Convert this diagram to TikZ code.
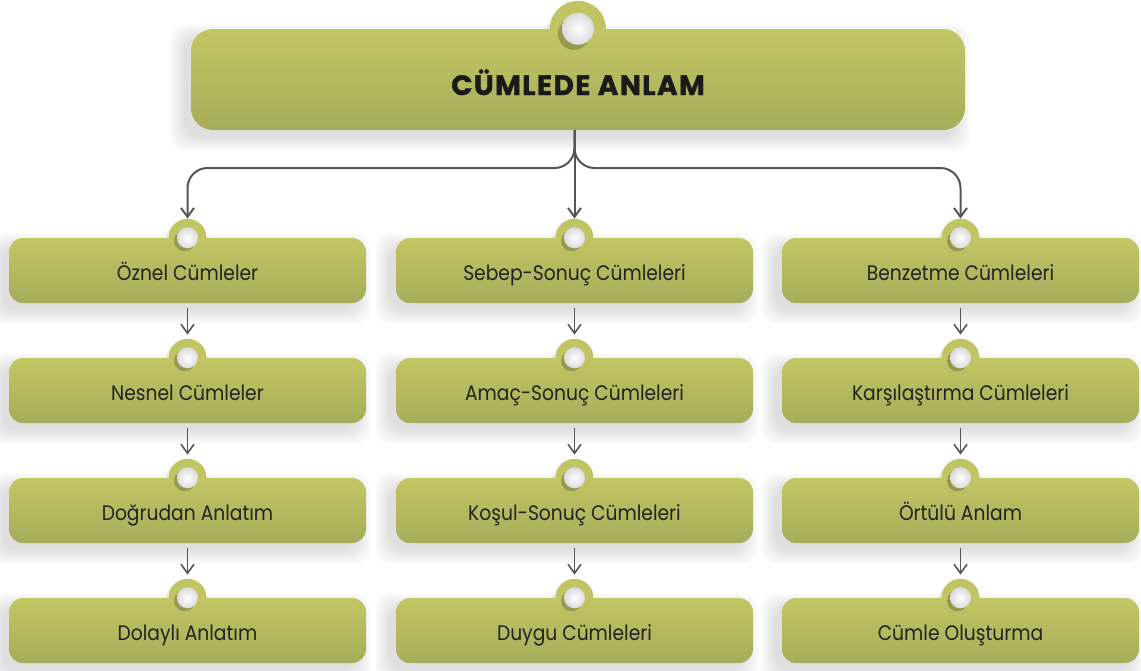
\documentclass[tikz,border=0pt]{standalone}
\usepackage{fontspec}
\setmainfont{Poppins}
\newfontfamily\titlefont[LetterSpace=5,FakeBold=1.2]{Poppins}
\newfontfamily\bodyfont[FakeStretch=0.89]{Poppins}
\usetikzlibrary{arrows.meta,calc}
\definecolor{gtop}{RGB}{194,198,99}
\definecolor{gbot}{RGB}{167,172,91}
\definecolor{ringc}{RGB}{192,196,98}
\definecolor{arrowc}{RGB}{85,85,85}
\definecolor{txt}{RGB}{34,34,34}
\definecolor{ttxt}{RGB}{26,26,26}
\pgfdeclarelayer{bg}
\pgfdeclarelayer{mid}
\pgfsetlayers{bg,mid,main}
\tikzset{
  box/.style={rounded corners=14pt, minimum width=357pt, minimum height=65pt,
    top color=gtop, bottom color=gbot, draw=none, inner sep=0pt,
    text height=19pt, text depth=0pt,
    text=txt, font=\bodyfont\fontsize{21}{24}\selectfont},
  titlebox/.style={rounded corners=22pt, minimum width=774pt, minimum height=101pt,
    top color=gtop, bottom color=gbot, draw=none, inner sep=0pt,
    text height=31pt, text depth=0pt,
    text=ttxt, font=\titlefont\bfseries\fontsize{28}{30}\selectfont},
  ring/.style={circle, fill=ringc, minimum size=38pt, inner sep=0pt},
  bigring/.style={circle, fill=ringc, minimum size=56pt, inner sep=0pt},
  dot/.style={circle, inner color=white, outer color=gray!28, minimum size=21pt, inner sep=0pt},
  bigdot/.style={circle, inner color=white, outer color=gray!28, minimum size=32pt, inner sep=0pt},
  arr/.style={draw=arrowc, line width=2pt, -{Straight Barb[length=9pt,width=13pt]}},
  arrs/.style={draw=arrowc, line width=1.6pt, -{Straight Barb[length=9pt,width=13pt]},
    shorten <=5pt, shorten >=4pt},
  shad/.style={black, opacity=0.016},
}
\newcommand\softshadow[1]{%
  \foreach \k in {0,2,...,14} {%
    \fill[shad, rounded corners=16pt]
      ($(#1.south west)+(-7-\k,7+\k)$) rectangle ($(#1.north east)+(-9+\k,9-\k)$);
  }}
\begin{document}
\begin{tikzpicture}[x=1pt,y=-1pt]
\useasboundingbox (0,0) rectangle (1141,670);
\node[titlebox] (T) at (578,79.5) {CÜMLEDE ANLAM};
% column 1
\node[box] (a1) at (187.5,270.5) {Öznel Cümleler};
\node[box] (a2) at (187.5,390.5) {Nesnel Cümleler};
\node[box] (a3) at (187.5,510.5) {Doğrudan Anlatım};
\node[box] (a4) at (187.5,630.5) {Dolaylı Anlatım};
% column 2
\node[box] (b1) at (574.5,270.5) {Sebep-Sonuç Cümleleri};
\node[box] (b2) at (574.5,390.5) {Amaç-Sonuç Cümleleri};
\node[box] (b3) at (574.5,510.5) {Koşul-Sonuç Cümleleri};
\node[box] (b4) at (574.5,630.5) {Duygu Cümleleri};
% column 3
\node[box] (c1) at (960.5,270.5) {Benzetme Cümleleri};
\node[box] (c2) at (960.5,390.5) {Karşılaştırma Cümleleri};
\node[box] (c3) at (960.5,510.5) {Örtülü Anlam};
\node[box] (c4) at (960.5,630.5) {Cümle Oluşturma};
% shadows
\begin{pgfonlayer}{bg}
  \softshadow{T}
  \foreach \n in {a1,a2,a3,a4,b1,b2,b3,b4,c1,c2,c3,c4} {\softshadow{\n}}
\end{pgfonlayer}
% rings
\begin{pgfonlayer}{mid}
  \fill[black, opacity=0.06] ($(T.north)+(-3,4)$) circle (29pt);
  \node[bigring] (rT) at (T.north) {};
  \foreach \n in {a1,a2,a3,a4,b1,b2,b3,b4,c1,c2,c3,c4} {
    \fill[black, opacity=0.06] ($(\n.north)+(-3,3)$) circle (19.5pt);
    \node[ring] (r\n) at (\n.north) {};
  }
\end{pgfonlayer}
% dots
\fill[black!60!ringc, opacity=0.35] ($(T.north)+(-4,5)$) circle (16pt);
\node[bigdot] (dT) at (T.north) {};
\foreach \n in {a1,a2,a3,a4,b1,b2,b3,b4,c1,c2,c3,c4} {
  \fill[black!60!ringc, opacity=0.35] ($(\n.north)+(-3,3)$) circle (10.5pt);
  \node[dot] (d\n) at (\n.north) {};
}
% connectors
\coordinate (J) at (0,168);
\draw[arr] (T.south -| rb1.north) -- (rb1.north);
\draw[arr, rounded corners=20pt] (T.south -| rb1.north) -- (rb1.north |- J) -| (ra1.north);
\draw[arr, rounded corners=20pt] (T.south -| rb1.north) -- (rb1.north |- J) -| (rc1.north);
\draw[arrs] (a1.south) -- (ra2.north);
\draw[arrs] (a2.south) -- (ra3.north);
\draw[arrs] (a3.south) -- (ra4.north);
\draw[arrs] (b1.south) -- (rb2.north);
\draw[arrs] (b2.south) -- (rb3.north);
\draw[arrs] (b3.south) -- (rb4.north);
\draw[arrs] (c1.south) -- (rc2.north);
\draw[arrs] (c2.south) -- (rc3.north);
\draw[arrs] (c3.south) -- (rc4.north);
\end{tikzpicture}
\end{document}
